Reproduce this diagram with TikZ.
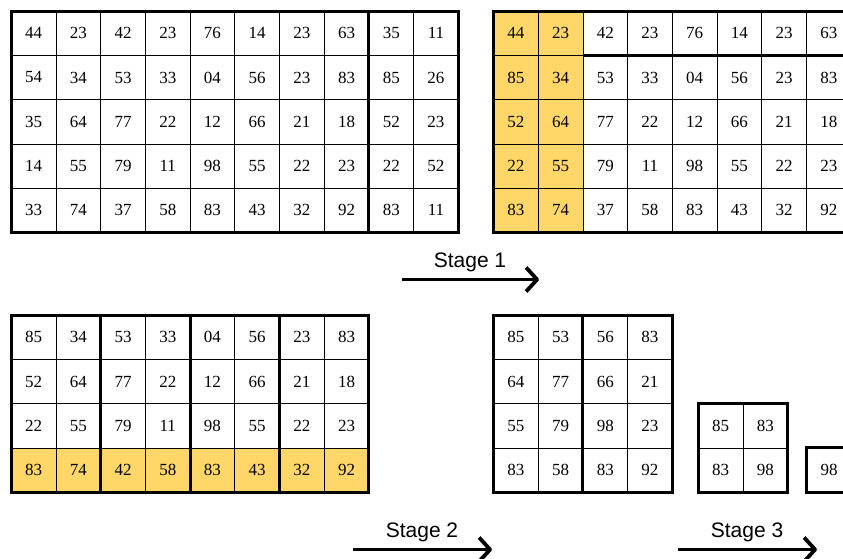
\documentclass[tikz,border=0pt]{standalone}
\usepackage{fontspec}
\setmainfont{Liberation Serif}
\newfontfamily\labelfont{Liberation Sans}
\usetikzlibrary{arrows.meta,backgrounds}

\definecolor{gold}{RGB}{255,215,104}
\def\cw{44.7}
\def\ch{44.3}
% rows of numbers as a grid of cells named <name>-<row>-<col>
\newcommand{\numgrid}[4]{%
  \foreach \row [count=\ri] in {#4}
    \foreach \v [count=\ci] in \row
      \node[cell] (#1-\ri-\ci) at ({#2+(\ci-0.5)*\cw},{#3+(\ri-0.5)*\ch}) {\v};
}

\tikzset{
  cell/.style={draw, line width=.7pt, inner sep=0pt, outer sep=0pt,
    minimum width=\cw pt, minimum height=\ch pt,
    font=\fontsize{17}{20}\selectfont},
  heavy/.style={line width=3pt},
  stagearrow/.style={line width=3.8pt,
    -{Straight Barb[length=11pt,width=24pt,line join=round]}},
  stagelabel/.style={font=\labelfont\fontsize{21}{24}\selectfont}
}

\begin{document}
\begin{tikzpicture}[x=1pt,y=-1pt]
  \clip (0,0) rectangle (843,558);

  \numgrid{g1}{11.3}{11}{{44,23,42,23,76,14,23,63,35,11},
    {54,34,53,33,04,56,23,83,85,26},{35,64,77,22,12,66,21,18,52,23},
    {14,55,79,11,98,55,22,23,22,52},{33,74,37,58,83,43,32,92,83,11}}
  \draw[heavy] (g1-1-1.north west) rectangle (g1-5-10.south east);
  \draw[heavy] (g1-1-8.north east) -- (g1-5-8.south east);

  \numgrid{g2}{493.5}{11}{{44,23,42,23,76,14,23,63},
    {85,34,53,33,04,56,23,83},{52,64,77,22,12,66,21,18},
    {22,55,79,11,98,55,22,23},{83,74,37,58,83,43,32,92}}
  \begin{scope}[on background layer]
    \fill[gold] (g2-1-1.north west) rectangle (g2-5-2.south east);
  \end{scope}
  \draw[heavy] (g2-1-1.north west) rectangle (g2-5-8.south east);
  \draw[heavy] (g2-1-3.south west) -- (g2-1-8.south east);

  \numgrid{g3}{11.3}{315}{{85,34,53,33,04,56,23,83},
    {52,64,77,22,12,66,21,18},{22,55,79,11,98,55,22,23},
    {83,74,42,58,83,43,32,92}}
  \begin{scope}[on background layer]
    \fill[gold] (g3-4-1.north west) rectangle (g3-4-8.south east);
  \end{scope}
  \draw[heavy] (g3-1-1.north west) rectangle (g3-4-8.south east);
  \foreach \k in {2,4,6}
    \draw[heavy] (g3-1-\k.north east) -- (g3-4-\k.south east);

  \numgrid{g4}{493.5}{315}{{85,53,56,83},{64,77,66,21},
    {55,79,98,23},{83,58,83,92}}
  \draw[heavy] (g4-1-1.north west) rectangle (g4-4-4.south east);
  \draw[heavy] (g4-1-2.north east) -- (g4-4-2.south east);

  \numgrid{g5}{698.3}{403.6}{{85,83},{83,98}}
  \draw[heavy] (g5-1-1.north west) rectangle (g5-2-2.south east);

  \numgrid{g6}{806.7}{447.9}{{98}}
  \draw[heavy] (g6-1-1.north west) rectangle (g6-1-1.south east);

  \coordinate (s1from) at (402,279.5);
  \coordinate (s1to) at (539,279.5);
  \draw[stagearrow] (s1from) -- (s1to);
  \node[stagelabel] (stage1) at (470,262) {Stage 1};

  \coordinate (s2from) at (353,549.5);
  \coordinate (s2to) at (492,549.5);
  \draw[stagearrow] (s2from) -- (s2to);
  \node[stagelabel] (stage2) at (422,532) {Stage 2};

  \coordinate (s3from) at (678,549.5);
  \coordinate (s3to) at (817,549.5);
  \draw[stagearrow] (s3from) -- (s3to);
  \node[stagelabel] (stage3) at (747,532) {Stage 3};
\end{tikzpicture}
\end{document}
